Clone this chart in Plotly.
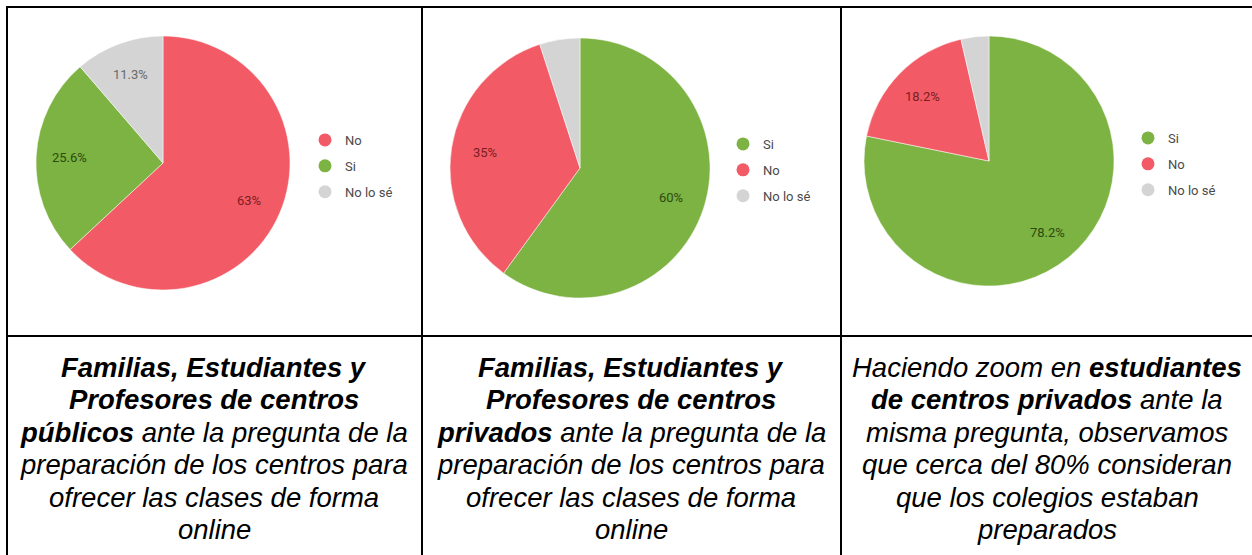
import math
import plotly.graph_objects as go

W, H = 1252, 555

# ---------------- data ----------------
pie1_labels = ["No", "Si", "No lo sé"]
pie1_values = [63.0, 25.6, 11.3]
pie2_labels = ["Si", "No", "No lo sé"]
pie2_values = [60.0, 35.0, 5.0]
pie3_labels = ["Si", "No", "No lo sé"]
pie3_values = [78.2, 18.2, 3.6]

captions1 = [
    "<b><i>Familias, Estudiantes y</i></b>",
    "<b><i>Profesores de centros</i></b>",
    "<b><i>públicos</i></b><i> ante la pregunta de la</i>",
    "<i>preparación de los centros para</i>",
    "<i>ofrecer las clases de forma</i>",
    "<i>online</i>",
]
captions2 = [
    "<b><i>Familias, Estudiantes y</i></b>",
    "<b><i>Profesores de centros</i></b>",
    "<b><i>privados</i></b><i> ante la pregunta de la</i>",
    "<i>preparación de los centros para</i>",
    "<i>ofrecer las clases de forma</i>",
    "<i>online</i>",
]
captions3 = [
    "<i>Haciendo zoom en </i><b><i>estudiantes</i></b>",
    "<b><i>de centros privados</i></b><i> ante la</i>",
    "<i>misma pregunta, observamos</i>",
    "<i>que cerca del 80% consideran</i>",
    "<i>que los colegios estaban</i>",
    "<i>preparados</i>",
]

# ---------------- style ----------------
COLORS = {"No": "#f25b66", "Si": "#7cb342", "No lo sé": "#d4d4d4"}
TEXT_COLORS = {"No": "#7b1d22", "Si": "#2d4a10", "No lo sé": "#6a6a6a"}

def px(x):
    return x / W

def py(y):
    return 1 - y / H

# pie geometry (pixels): center x, center y, radius
pies = [
    dict(labels=pie1_labels, values=pie1_values, cx=163, cy=163, r=127,
         legend="legend", lx=325, ly=139),
    dict(labels=pie2_labels, values=pie2_values, cx=580, cy=168, r=130,
         legend="legend2", lx=743, ly=143),
    dict(labels=pie3_labels, values=pie3_values, cx=989, cy=161, r=125,
         legend="legend3", lx=1148, ly=137),
]

fig = go.Figure()
annotations = []
layout_legends = {}

for i, p in enumerate(pies):
    fig.add_trace(go.Pie(
        labels=p["labels"], values=p["values"],
        marker=dict(colors=[COLORS[l] for l in p["labels"]],
                    line=dict(color="white", width=0.5)),
        sort=False, direction="clockwise", rotation=0,
        textinfo="none", hoverinfo="label+percent",
        showlegend=False,
        domain=dict(x=[px(p["cx"] - p["r"]), px(p["cx"] + p["r"])],
                    y=[py(p["cy"] + p["r"]), py(p["cy"] - p["r"])]),
    ))
    # slice labels computed from the data
    total = sum(p["values"])
    cum = 0.0
    for lab, v in zip(p["labels"], p["values"]):
        mid = (cum + v / 2) / total * 2 * math.pi
        cum += v
        if v < 10:
            continue
        k = 0.74
        x = p["cx"] + k * p["r"] * math.sin(mid)
        y = p["cy"] - k * p["r"] * math.cos(mid)
        annotations.append(dict(
            x=px(x), y=py(y), xref="paper", yref="paper",
            text=f"{v:g}%", showarrow=False,
            font=dict(family="Roboto, Arial", size=13, color=TEXT_COLORS[lab]),
            xanchor="center", yanchor="middle",
        ))
    # legend entries
    for lab in p["labels"]:
        fig.add_trace(go.Scatter(
            x=[None], y=[None], mode="markers", name=lab,
            marker=dict(symbol="circle", size=13, color=COLORS[lab]),
            legend=p["legend"], legendgroup=f"{p['legend']}_{lab}",
            showlegend=True, hoverinfo="skip",
        ))
    layout_legends[p["legend"]] = dict(
        x=px(p["lx"] - 20), y=py(p["ly"] - 14), xanchor="left", yanchor="top",
        bgcolor="rgba(0,0,0,0)", traceorder="grouped", tracegroupgap=6,
        font=dict(family="Roboto, Arial", size=13, color="#4a4a4a"),
        itemclick=False, itemdoubleclick=False,
    )

# captions
col_centers = [214, 631, 1047]
line_y0 = 367
line_dy = 32.5
for cx, lines in zip(col_centers, [captions1, captions2, captions3]):
    for j, t in enumerate(lines):
        annotations.append(dict(
            x=px(cx), y=py(line_y0 + j * line_dy), xref="paper", yref="paper",
            text=t, showarrow=False, xanchor="center", yanchor="middle",
            font=dict(family="Liberation Sans, Arial", size=27.5, color="#000000"),
        ))

# table lines
shapes = []
line = dict(color="black", width=2)
for x in [7, 422, 841]:
    shapes.append(dict(type="line", xref="paper", yref="paper",
                       x0=px(x), x1=px(x), y0=py(6), y1=py(H + 5), line=line))
for y in [7, 336]:
    shapes.append(dict(type="line", xref="paper", yref="paper",
                       x0=px(6), x1=px(W + 5), y0=py(y), y1=py(y), line=line))

fig.update_layout(
    width=W, height=H,
    margin=dict(l=0, r=0, t=0, b=0),
    paper_bgcolor="white", plot_bgcolor="white",
    xaxis=dict(visible=False), yaxis=dict(visible=False),
    annotations=annotations, shapes=shapes,
    **layout_legends,
)

fig.write_html(
    "out.html",
    config={"displayModeBar": False},
    post_script="document.body.style.margin='0';document.body.style.overflow='hidden';",
)
